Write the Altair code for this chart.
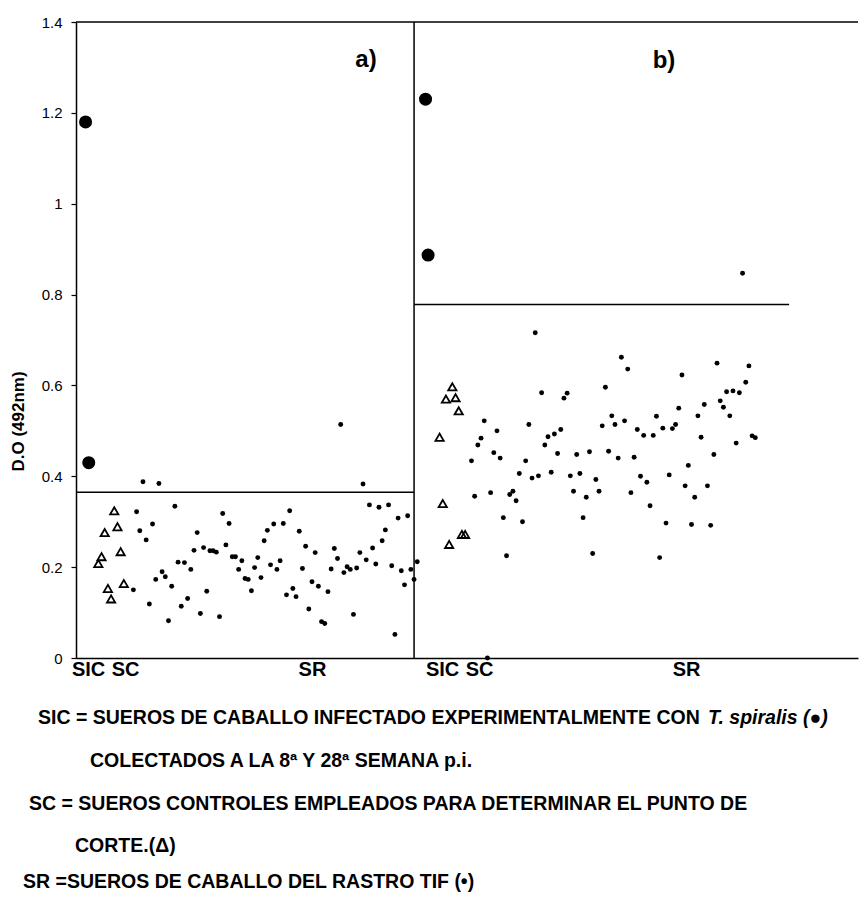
import altair as alt
import pandas as pd

# ---------------- data ----------------
# panel a)
sic_a_sample = [3, 4]
sic_a_od = [1.18, 0.43]
sc_a_sample = [7, 8, 9, 10, 11, 12, 13, 14, 15]
sc_a_od = [0.208, 0.223, 0.276, 0.153, 0.130, 0.324, 0.289, 0.234, 0.164]
sr_a_first = 18
sr_a_od = [0.150, 0.322, 0.280, 0.388, 0.260, 0.119, 0.295, 0.173, 0.384, 0.190,
           0.179, 0.082, 0.158, 0.334, 0.211, 0.114, 0.210, 0.131, 0.195, 0.237,
           0.276, 0.098, 0.243, 0.147, 0.236, 0.236, 0.233, 0.091, 0.318, 0.249,
           0.296, 0.223, 0.223, 0.195, 0.214, 0.175, 0.173, 0.148, 0.199, 0.221,
           0.177, 0.258, 0.281, 0.205, 0.295, 0.195, 0.214, 0.296, 0.139, 0.324,
           0.153, 0.135, 0.279, 0.197, 0.246, 0.108, 0.168, 0.232, 0.158, 0.080,
           0.076, 0.146, 0.196, 0.241, 0.219, 0.514, 0.188, 0.201, 0.195, 0.096,
           0.198, 0.232, 0.383, 0.216, 0.337, 0.242, 0.207, 0.332, 0.258, 0.282,
           0.337, 0.203, 0.052, 0.308, 0.192, 0.161, 0.313, 0.195, 0.173, 0.212]
cutoff_a = 0.365

# panel b)
sic_b_sample = [3.6, 4.4]
sic_b_od = [1.23, 0.887]
sc_b_sample = [8, 9, 10, 11, 12, 13, 14, 15, 16]
sc_b_od = [0.486, 0.340, 0.570, 0.250, 0.597, 0.573, 0.544, 0.272, 0.272]
sr_b_first = 18
sr_b_od = [0.434, 0.356, 0.469, 0.484, 0.522, 0.000, 0.364, 0.452, 0.500, 0.440,
           0.309, 0.225, 0.360, 0.367, 0.346, 0.406, 0.300, 0.434, 0.514, 0.396,
           0.716, 0.401, 0.584, 0.469, 0.487, 0.409, 0.493, 0.450, 0.503, 0.572,
           0.583, 0.401, 0.367, 0.448, 0.406, 0.309, 0.354, 0.454, 0.230, 0.393,
           0.367, 0.511, 0.596, 0.455, 0.533, 0.514, 0.440, 0.662, 0.522, 0.636,
           0.364, 0.442, 0.503, 0.400, 0.490, 0.387, 0.335, 0.490, 0.532, 0.221,
           0.506, 0.297, 0.403, 0.505, 0.514, 0.550, 0.623, 0.379, 0.424, 0.294,
           0.354, 0.533, 0.486, 0.558, 0.379, 0.292, 0.448, 0.649, 0.566, 0.552,
           0.586, 0.533, 0.588, 0.473, 0.584, 0.847, 0.607, 0.643, 0.489, 0.485]
cutoff_b = 0.778

# panel extents on the shared sample axis
panel_a_span = 106.0
panel_b_span = 139.2
cutoff_b_end = 117.6        # cut-off line in b) stops before the panel edge

# category labels on the x axis (sample position, text)
cat_pos = [3.8, 15.4, 74.0, 8.8, 20.4, 85.3]
cat_panel = ["a", "a", "a", "b", "b", "b"]
cat_text = ["SIC", "SC", "SR", "SIC", "SC", "SR"]

y_ticks = [0, 0.2, 0.4, 0.6, 0.8, 1.0, 1.2, 1.4]

# ---------------- build tables ----------------
offset = {"a": 0.0, "b": panel_a_span}
rows = []
def add(panel, group, samples, ods):
    for s, v in zip(samples, ods):
        rows.append({"panel": panel, "group": group, "sample": s,
                     "x": s + offset[panel], "od": v})

add("a", "SIC", sic_a_sample, sic_a_od)
add("a", "SC", sc_a_sample, sc_a_od)
add("a", "SR", list(range(sr_a_first, sr_a_first + len(sr_a_od))), sr_a_od)
add("b", "SIC", sic_b_sample, sic_b_od)
add("b", "SC", sc_b_sample, sc_b_od)
add("b", "SR", list(range(sr_b_first, sr_b_first + len(sr_b_od))), sr_b_od)
df = pd.DataFrame(rows)

total = panel_a_span + panel_b_span
cut_df = pd.DataFrame({
    "x": [0.0, panel_a_span],
    "x2": [panel_a_span, panel_a_span + cutoff_b_end],
    "y": [cutoff_a, cutoff_b],
})
frame_df = pd.DataFrame({"x": [0.0], "x2": [total], "y": [1.4]})
div_df = pd.DataFrame({"x": [panel_a_span], "y": [0.0], "y2": [1.4]})

cat_x = [p + offset[pn] for p, pn in zip(cat_pos, cat_panel)]
label_expr = ""
for i, (cx, t) in enumerate(zip(cat_x, cat_text)):
    label_expr += f"abs(datum.value - {cx}) < 0.5 ? '{t}' : "
label_expr += "''"

NARROW = "Liberation Sans Narrow, Arial Narrow, Liberation Sans, sans-serif"
REG = "Liberation Sans, Arial, sans-serif"

xscale = alt.Scale(domain=[0, total], nice=False, zero=False)
yscale = alt.Scale(domain=[0, 1.4], nice=False, zero=False)

x_enc = alt.X("x:Q", scale=xscale, axis=alt.Axis(
    values=cat_x, labelExpr=label_expr, title=None, grid=False, ticks=False,
    domainColor="black", domainWidth=1.5, labelFont=NARROW, labelFontSize=20,
    labelFontWeight="bold", labelColor="black", labelPadding=1,
    labelBaseline="top", labelFlush=False, labelOverlap=False))
y_enc = alt.Y("od:Q", scale=yscale, axis=alt.Axis(
    values=y_ticks, format="~g", title="D.O (492nm)", grid=False,
    domainColor="black", domainWidth=1.5, tickColor="black", tickSize=5,
    tickWidth=1.2, labelFont=REG, labelFontSize=15, labelColor="black",
    labelPadding=9, titleFont=REG, titleFontSize=17, titleFontWeight="bold",
    titleColor="black", titleX=-58, titleY=399, titleAngle=270,
    titleAlign="center", titleBaseline="middle"))

base = alt.Chart(df)
sic = base.transform_filter(alt.datum.group == "SIC").mark_point(
    shape="circle", filled=True, color="black", size=170, opacity=1
).encode(x=x_enc, y=y_enc)
sc = base.transform_filter(alt.datum.group == "SC").mark_point(
    shape="triangle-up", filled=False, color="black", strokeWidth=1.8, size=68,
    opacity=1
).encode(x="x:Q", y="od:Q")
sr = base.transform_filter(alt.datum.group == "SR").mark_point(
    shape="circle", filled=True, color="black", size=24, opacity=1
).encode(x="x:Q", y="od:Q")

cut = alt.Chart(cut_df).mark_rule(color="black", strokeWidth=1.5).encode(
    x="x:Q", x2="x2:Q", y="y:Q")
top = alt.Chart(frame_df).mark_rule(color="black", strokeWidth=1.5).encode(
    x="x:Q", x2="x2:Q", y="y:Q")
div = alt.Chart(div_df).mark_rule(color="black", strokeWidth=1.5).encode(
    x="x:Q", y="y:Q", y2="y2:Q")

def txt(s, px, py, size=19.5, style="normal", font=NARROW, align="left"):
    return alt.Chart(pd.DataFrame({"t": [s]})).mark_text(
        font=font, fontSize=size, fontWeight="bold", fontStyle=style,
        align=align, baseline="middle", color="black"
    ).encode(text="t:N", x=alt.value(px), y=alt.value(py))

# plot origin is at page (76, 22)
lab_a = txt("a)", 366 - 76, 60 - 22, size=24, align="center")
lab_b = txt("b)", 664 - 76, 61 - 22, size=24, align="center")

n1 = txt("SIC = SUEROS DE CABALLO INFECTADO EXPERIMENTALMENTE CON", 38 - 76, 718 - 22)
n1b = txt("T. spiralis (\u25cf)", 708 - 76, 718 - 22, style="italic")
n2 = txt("COLECTADOS A LA 8\u00aa Y 28\u00aa SEMANA p.i.", 90 - 76, 761 - 22)
n3 = txt("SC = SUEROS CONTROLES EMPLEADOS PARA DETERMINAR EL PUNTO DE", 29 - 76, 804 - 22)
n4 = txt("CORTE.(\u0394)", 75 - 76, 846 - 22)
n5 = txt("SR =SUEROS DE CABALLO DEL RASTRO TIF (\u2022)", 23 - 76, 882 - 22)

chart = alt.layer(
    sic, sc, sr, cut, top, div, lab_a, lab_b, n1, n1b, n2, n3, n4, n5
).properties(
    width=782, height=636,
    padding={"left": 68, "top": 14, "right": 2, "bottom": 236},
    autosize=alt.AutoSizeParams(type="none"),
    background="white",
).configure_view(stroke=None)

chart.save("out.html", embed_options={"renderer": "svg", "actions": False})
